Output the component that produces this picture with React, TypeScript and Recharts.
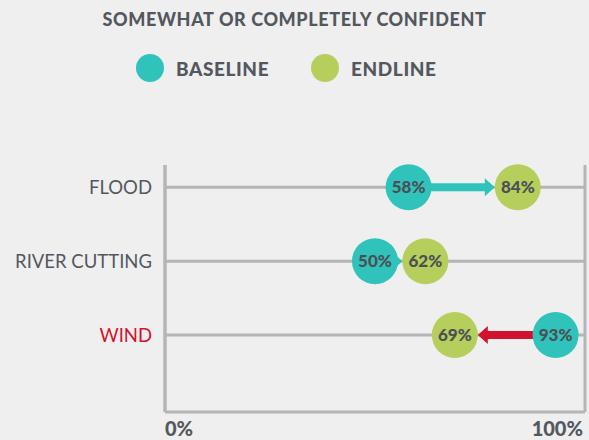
import React from "react";
import {
  ScatterChart,
  Scatter,
  XAxis,
  YAxis,
  CartesianGrid,
  ReferenceLine,
} from "recharts";

const categories = ["FLOOD", "RIVER CUTTING", "WIND"];
const baseline = [58, 50, 93];
const endline = [84, 62, 69];
const xTicks = [0, 100];
const rows = [0, 1, 2];

const TEAL = "#2fc3bc";
const GREEN = "#b6cf5c";
const RED = "#d2112e";
const TEXT = "#53585e";
const GRID = "#b5b5b5";
const R = 23;
const FONT = "Lato, 'Open Sans', sans-serif";

const baseData = categories.map((name, i) => ({ row: i, value: baseline[i], name }));
const endData = categories.map((name, i) => ({ row: i, value: endline[i], name }));

const Dot = (props: any) => {
  const { cx, cy, payload, fill } = props;
  return (
    <g>
      <circle cx={cx} cy={cy} r={R} fill={fill} />
      <text
        x={cx}
        y={cy}
        dy="0.36em"
        textAnchor="middle"
        fontFamily={FONT}
        fontWeight={900}
        fontSize={17}
        fill="#4b5055"
      >
        {payload.value}%
      </text>
    </g>
  );
};

const Arrow = (color: string) => (props: any) => {
  const { x1, y1, x2 } = props;
  const dir = x2 > x1 ? 1 : -1;
  const tip = x2 - dir * R;
  const head = 10;
  const neck = tip - dir * head;
  const y = y1;
  const d = [
    `M${x1},${y - 4}`,
    `L${neck},${y - 4}`,
    `L${neck},${y - 9}`,
    `L${tip},${y}`,
    `L${neck},${y + 9}`,
    `L${neck},${y + 4}`,
    `L${x1},${y + 4}`,
    "Z",
  ].join(" ");
  return <path d={d} fill={color} />;
};

const CategoryTick = (props: any) => {
  const { x, y, payload } = props;
  const name = categories[payload.value];
  return (
    <text
      x={x - 5}
      y={y}
      dy="0.36em"
      textAnchor="end"
      fontFamily={FONT}
      fontSize={18.5}
      fill={name === "WIND" ? RED : TEXT}
    >
      {name}
    </text>
  );
};

const PercentTick = (props: any) => {
  const { x, y, payload } = props;
  const first = payload.value === 0;
  return (
    <text
      x={first ? x : x + 6}
      y={y + 16}
      textAnchor={first ? "start" : "end"}
      fontFamily={FONT}
      fontWeight={900}
      fontSize={20}
      fill={TEXT}
    >
      {payload.value}%
    </text>
  );
};

const LegendItem = ({ color, label, left }: { color: string; label: string; left: number }) => (
  <div style={{ position: "absolute", left, top: 54, display: "flex", alignItems: "center" }}>
    <span
      style={{ width: 28, height: 28, borderRadius: 14, background: color, display: "inline-block" }}
    />
    <span style={{ marginLeft: 12, fontSize: 19, fontWeight: 900, color: TEXT, letterSpacing: 0.6 }}>
      {label}
    </span>
  </div>
);

export default function App() {
  return (
    <div
      style={{
        position: "absolute",
        left: 0,
        top: 0,
        width: 589,
        height: 440,
        background: "#efefef",
        fontFamily: FONT,
        overflow: "hidden",
      }}
    >
      <div
        style={{
          position: "absolute",
          top: 8,
          width: 589,
          textAlign: "center",
          fontSize: 18,
          fontWeight: 900,
          color: TEXT,
          letterSpacing: 0.6,
        }}
      >
        SOMEWHAT OR COMPLETELY CONFIDENT
      </div>
      <LegendItem color={TEAL} label="BASELINE" left={136} />
      <LegendItem color={GREEN} label="ENDLINE" left={311} />

      <ScatterChart width={589} height={440} margin={{ top: 165, right: 4, bottom: 0, left: 0 }}>
        <CartesianGrid stroke={GRID} strokeWidth={3} horizontal={false} />
        <XAxis
          type="number"
          dataKey="value"
          domain={[0, 100]}
          ticks={xTicks}
          tickLine={false}
          axisLine={{ stroke: GRID, strokeWidth: 3 }}
          tick={<PercentTick />}
          height={28}
        />
        <YAxis
          type="number"
          dataKey="row"
          domain={[-0.3, 3.04]}
          ticks={rows}
          reversed
          tickLine={false}
          axisLine={{ stroke: GRID, strokeWidth: 3 }}
          tick={<CategoryTick />}
          width={165}
        />
        {rows.map((r) => (
          <ReferenceLine key={`row-${r}`} y={r} stroke={GRID} strokeWidth={3} />
        ))}
        {categories.map((name, i) => (
          <ReferenceLine
            key={name}
            segment={[
              { x: baseline[i], y: i },
              { x: endline[i], y: i },
            ]}
            shape={Arrow(endline[i] >= baseline[i] ? TEAL : RED)}
          />
        ))}
        <Scatter data={baseData} fill={TEAL} shape={<Dot />} isAnimationActive={false} />
        <Scatter data={endData} fill={GREEN} shape={<Dot />} isAnimationActive={false} />
      </ScatterChart>
    </div>
  );
}
